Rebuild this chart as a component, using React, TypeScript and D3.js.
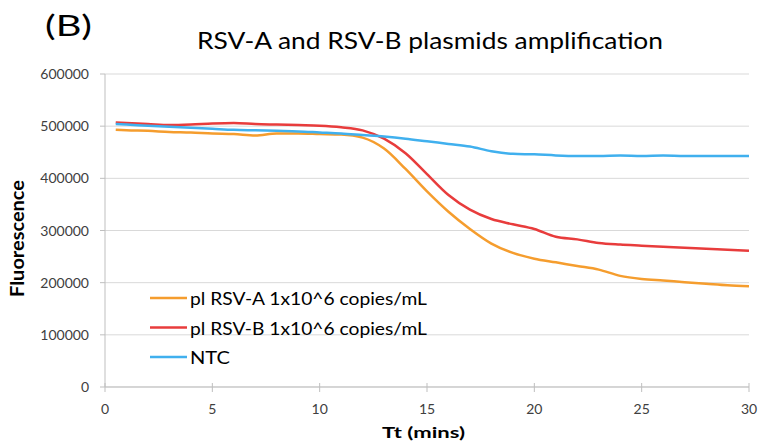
import React from 'react';
import * as d3 from 'd3';

// sample times (mins) and fluorescence readings for each run
const times = [0.5, 1, 2, 3, 4, 5, 6, 7, 8, 9, 10, 11, 12, 13, 14, 15, 16, 17, 18, 19, 20, 21, 22, 23, 24, 25, 26, 27, 28, 29, 30];
const rsvA = [493000, 492000, 491000, 489000, 488000, 486000, 485000, 482000, 486000, 486000, 485000, 484000, 478000, 457000, 418000, 375000, 336000, 303000, 275000, 257000, 246000, 239000, 232000, 225000, 213000, 207000, 204000, 201000, 198000, 195000, 193000];
const rsvB = [507000, 506000, 504000, 502000, 503000, 505000, 506000, 504000, 503000, 502000, 501000, 498000, 492000, 476000, 448000, 408000, 368000, 340000, 322000, 312000, 303000, 288000, 283000, 276000, 273000, 271000, 269000, 267000, 265000, 263000, 261000];
const ntc = [504000, 503000, 501000, 499000, 497000, 495000, 493000, 492000, 491000, 490000, 488000, 486000, 483000, 480000, 476000, 471000, 466000, 461000, 452000, 447000, 446000, 444000, 443000, 443000, 444000, 443000, 444000, 443000, 443000, 443000, 443000];

const seriesNames = ['pl RSV-A 1x10^6 copies/mL', 'pl RSV-B 1x10^6 copies/mL', 'NTC'];
const seriesColors = ['#f59d2e', '#e83c3c', '#40b0ee'];
const xTicks = [0, 5, 10, 15, 20, 25, 30];
const yTicks = [0, 100000, 200000, 300000, 400000, 500000, 600000];

const W = 759;
const H = 441;
const font = 'Lato, "Open Sans", sans-serif';

export default function App() {
  const x = d3.scaleLinear().domain([0, 30]).range([105, 749]);
  const y = d3.scaleLinear().domain([0, 600000]).range([387, 74]);

  const line = d3
    .line<number>()
    .x((_, i) => x(times[i]))
    .y((v) => y(v))
    .curve(d3.curveMonotoneX);

  const series = [rsvA, rsvB, ntc];
  // the source picture is a bit wider than the fonts here, so stretch labels to fit
  const legendWidths = [237, 237, 40];

  return (
    <svg width={W} height={H} style={{ position: 'absolute', left: 0, top: 0, background: '#fff' }}>
      {/* panel label and title */}
      <text x={45} y={36} fontFamily={font} fontSize={28} fill="#000" textLength={47} lengthAdjust="spacingAndGlyphs">
        (B)
      </text>
      <text x={197} y={49} fontFamily={font} fontSize={23.5} fill="#000" textLength={466} lengthAdjust="spacingAndGlyphs">
        RSV-A and RSV-B plasmids amplification
      </text>

      {/* horizontal gridlines + y ticks */}
      {yTicks.map((t) => (
        <g key={t}>
          <line x1={x(0)} x2={x(30)} y1={y(t)} y2={y(t)} stroke="#d9d9d9" strokeWidth={1} />
          <line x1={x(0) - 5} x2={x(0)} y1={y(t)} y2={y(t)} stroke="#bfbfbf" />
          <text x={89} y={y(t) + 5} textAnchor="end" fontFamily={font} fontSize={14} fill="#404040">
            {t}
          </text>
        </g>
      ))}

      {/* axis lines */}
      <line x1={x(0)} x2={x(0)} y1={y(600000)} y2={y(0)} stroke="#bfbfbf" />
      <line x1={x(0)} x2={x(30)} y1={y(0)} y2={y(0)} stroke="#bfbfbf" />
      {xTicks.map((t) => (
        <g key={t}>
          <line x1={x(t)} x2={x(t)} y1={y(0) - 4} y2={y(0) + 5} stroke="#bfbfbf" />
          <text x={x(t)} y={414} textAnchor="middle" fontFamily={font} fontSize={14} fill="#404040">
            {t}
          </text>
        </g>
      ))}

      {/* axis titles */}
      <text x={382} y={438} fontFamily={font} fontSize={16} fontWeight="bold" fill="#000" textLength={83} lengthAdjust="spacingAndGlyphs">
        Tt (mins)
      </text>
      <text
        transform={`translate(24, 297) rotate(-90)`}
        fontFamily={font}
        fontSize={19}
        fontWeight="bold"
        fill="#000"
        textLength={117}
        lengthAdjust="spacingAndGlyphs"
      >
        Fluorescence
      </text>

      {/* data lines */}
      {series.map((s, i) => (
        <path key={i} d={line(s) || ''} fill="none" stroke={seriesColors[i]} strokeWidth={2.5} />
      ))}

      {/* legend */}
      {seriesNames.map((name, i) => (
        <g key={name} transform={`translate(150, ${298 + i * 29.5})`}>
          <line x1={0} x2={37} y1={0} y2={0} stroke={seriesColors[i]} strokeWidth={2.5} />
          <text x={40} y={7} fontFamily={font} fontSize={18} fill="#000" textLength={legendWidths[i]} lengthAdjust="spacingAndGlyphs">
            {name}
          </text>
        </g>
      ))}
    </svg>
  );
}
